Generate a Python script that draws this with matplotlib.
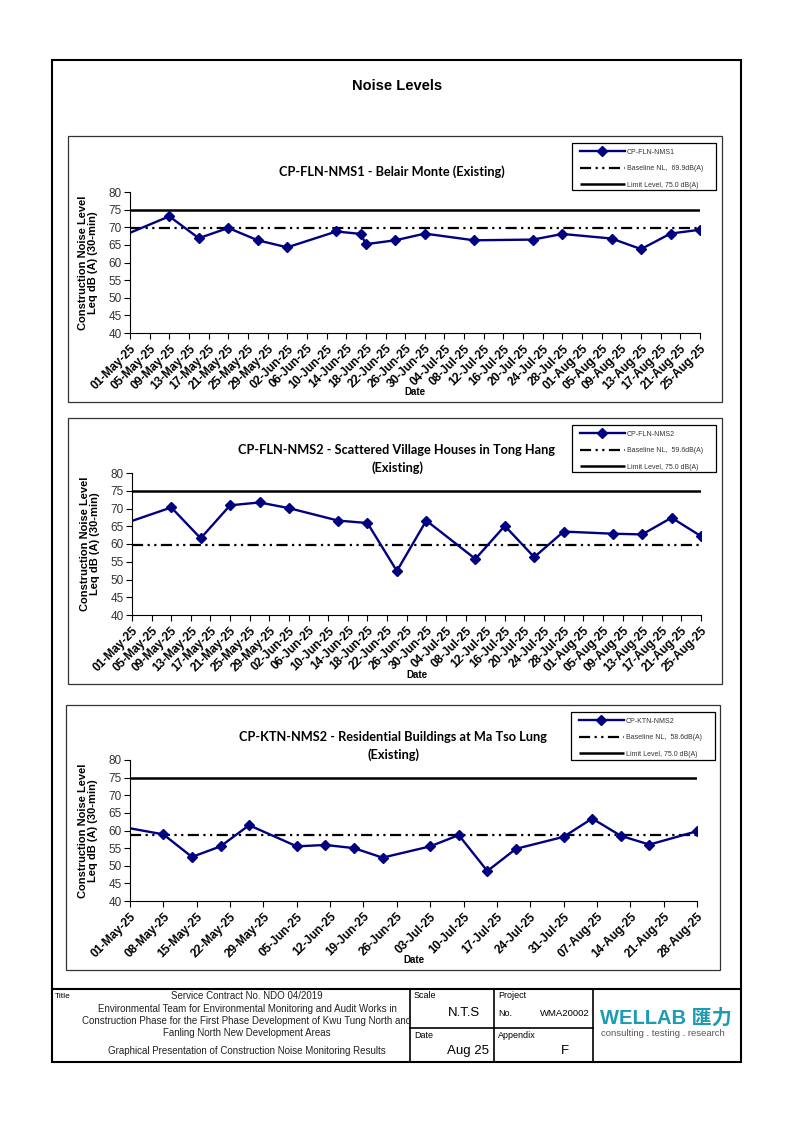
import matplotlib
matplotlib.use('Agg')
import matplotlib.pyplot as plt
from matplotlib.patches import Rectangle
import pandas as pd

W, H = 794, 1123

# ---------------- data ----------------
station1 = 'CP-FLN-NMS1'
title1 = ['CP-FLN-NMS1 - Belair Monte (Existing)']
baseline1 = 69.9
dates1 = ['2025-04-27', '2025-05-09', '2025-05-15', '2025-05-21', '2025-05-27', '2025-06-02',
          '2025-06-12', '2025-06-17', '2025-06-18', '2025-06-24', '2025-06-30', '2025-07-10',
          '2025-07-22', '2025-07-28', '2025-08-07', '2025-08-13', '2025-08-19', '2025-08-25']
values1 = [66.1, 73.1, 66.9, 69.8, 66.3, 64.3, 68.8, 68.1, 65.2, 66.3, 68.2, 66.3,
           66.5, 68.1, 66.8, 63.8, 68.2, 69.3]

station2 = 'CP-FLN-NMS2'
title2 = ['CP-FLN-NMS2 - Scattered Village Houses in Tong Hang', '(Existing)']
baseline2 = 59.6
dates2 = ['2025-04-27', '2025-05-09', '2025-05-15', '2025-05-21', '2025-05-27', '2025-06-02',
          '2025-06-12', '2025-06-18', '2025-06-24', '2025-06-30', '2025-07-10', '2025-07-16',
          '2025-07-22', '2025-07-28', '2025-08-07', '2025-08-13', '2025-08-19', '2025-08-25']
values2 = [64.6, 70.3, 61.6, 70.9, 71.7, 70.1, 66.6, 65.9, 52.4, 66.6, 55.8, 65.1,
           56.3, 63.5, 62.9, 62.7, 67.4, 62.2]

station3 = 'CP-KTN-NMS2'
title3 = ['CP-KTN-NMS2 - Residential Buildings at Ma Tso Lung', '(Existing)']
baseline3 = 58.6
dates3 = ['2025-04-25', '2025-05-08', '2025-05-14', '2025-05-20', '2025-05-26', '2025-06-05',
          '2025-06-11', '2025-06-17', '2025-06-23', '2025-07-03', '2025-07-09', '2025-07-15',
          '2025-07-21', '2025-07-31', '2025-08-06', '2025-08-12', '2025-08-18', '2025-08-28']
values3 = [62.1, 58.9, 52.5, 55.5, 61.5, 55.5, 55.9, 55.0, 52.3, 55.5, 58.7, 48.5,
           54.8, 58.2, 63.4, 58.5, 56.0, 59.8]

limit_level = 75.0
y_ticks = [40, 45, 50, 55, 60, 65, 70, 75, 80]

NAVY = '#000080'
SANS = ['Liberation Sans', 'DejaVu Sans']
NARROW = ['Liberation Sans Narrow', 'Liberation Sans', 'DejaVu Sans']
TITLEF = ['Lato', 'DejaVu Sans']

plt.rcParams['font.family'] = SANS

fig = plt.figure(figsize=(W / 100, H / 100), dpi=100)
bg = fig.add_axes([0, 0, 1, 1], zorder=0)
bg.set_xlim(0, W)
bg.set_ylim(H, 0)
bg.axis('off')


def frac(x0, y0, x1, y1):
    return [x0 / W, 1 - y1 / H, (x1 - x0) / W, (y1 - y0) / H]


def chart(box, rect, dates, vals, station, baseline, start, end, step,
          title_lines, title_x, title_y, leg_box):
    bg.add_patch(Rectangle((box[0], box[1]), box[2] - box[0], box[3] - box[1],
                           fill=False, lw=0.9, edgecolor='#333333'))
    bg.add_patch(Rectangle((leg_box[0], leg_box[1]), leg_box[2] - leg_box[0],
                           leg_box[3] - leg_box[1], fill=False, lw=0.9,
                           edgecolor='black'))
    ax = fig.add_axes(frac(*rect), zorder=2)
    ax.patch.set_alpha(0)
    xs, xe = pd.Timestamp(start), pd.Timestamp(end)
    x = pd.to_datetime(dates)
    l_lim, = ax.plot([xs, xe], [limit_level, limit_level], color='black', lw=1.8,
                     solid_capstyle='butt')
    l_base, = ax.plot([xs, xe], [baseline, baseline], color='black', lw=1.6,
                      dashes=[5, 2, 1, 2, 1, 2])
    l_st, = ax.plot(x, vals, color=NAVY, lw=1.7, marker='D', ms=4.6,
                    markerfacecolor=NAVY, markeredgecolor=NAVY)
    ax.set_xlim(xs, xe)
    ax.set_ylim(40, 80)
    ticks = pd.date_range(xs, xe, freq=f'{step}D')
    ax.set_xticks(ticks)
    ax.set_xticklabels([t.strftime('%d-%b-%y') for t in ticks], rotation=45,
                       ha='right', rotation_mode='anchor', fontweight='bold',
                       fontsize=8.6)
    ax.set_yticks(y_ticks)
    ax.set_yticklabels([str(v) for v in y_ticks], fontsize=8.5, color='#333333')
    ax.tick_params(axis='both', direction='out', length=4, width=0.8, pad=2)
    ax.tick_params(axis='x', pad=3)
    for s in ['top', 'right']:
        ax.spines[s].set_visible(False)
    for s in ['left', 'bottom']:
        ax.spines[s].set_linewidth(0.8)
    ax.set_ylabel('Construction Noise Level\nLeq dB (A) (30-min)', fontsize=8,
                  fontweight='bold', linespacing=1.05)
    ax.yaxis.set_label_coords(-0.056, 0.5)
    ax.set_xlabel('Date', fontsize=7, fontweight='bold')
    ax.xaxis.set_label_coords(0.5, -0.385)
    for i, t in enumerate(title_lines):
        bg.text(title_x, title_y + i * 18, t, ha='center', va='center',
                family=TITLEF, fontweight='bold', fontsize=9.2)
    leg = ax.legend([l_st, l_base, l_lim],
                    [station, f'Baseline NL,  {baseline}dB(A)',
                     f'Limit Level, {limit_level:.1f} dB(A)'],
                    loc='upper left',
                    bbox_to_anchor=((leg_box[0] + 3) / W, 1 - (leg_box[1] + 1) / H),
                    bbox_transform=fig.transFigure, fontsize=5, frameon=False,
                    handlelength=6.5, borderpad=0.7, labelspacing=1.35,
                    borderaxespad=0, handletextpad=0.3)
    for t in leg.get_texts():
        t.set_color('#333333')
    return ax


# page frame
bg.add_patch(Rectangle((52, 60), 689, 1002, fill=False, lw=1.5, edgecolor='black'))
bg.text(397, 86, 'Noise Levels', ha='center', va='center', fontsize=10.5,
        fontweight='bold')

chart((68, 136, 722, 402), (130, 192, 700, 333), dates1, values1, station1, baseline1,
      '2025-05-01', '2025-08-25', 4, title1, 392, 172, (572, 143, 716, 190))
chart((68, 418, 722, 684), (132, 473, 701, 615), dates2, values2, station2, baseline2,
      '2025-05-01', '2025-08-25', 4, title2, 397, 450, (572, 425, 716, 472))
chart((66, 705, 720, 970), (130, 760, 697, 901), dates3, values3, station3, baseline3,
      '2025-05-01', '2025-08-28', 7, title3, 393, 737, (571, 712, 715, 760))

# title block
bg.plot([52, 741], [989, 989], color='black', lw=1.5)
for xv in [410, 494, 593]:
    bg.plot([xv, xv], [989, 1062], color='black', lw=1.2)
bg.plot([410, 593], [1028, 1028], color='black', lw=1.2)

bg.text(55, 996, 'Title', fontsize=6, family=NARROW, va='center')
block_lines = [('Service Contract No. NDO 04/2019', 996),
               ('Environmental Team for Environmental Monitoring and Audit Works in', 1009),
               ('Construction Phase for the First Phase Development of Kwu Tung North and', 1021),
               ('Fanling North New Development Areas', 1033),
               ('Graphical Presentation of Construction Noise Monitoring Results', 1051)]
for txt, yy in block_lines:
    bg.text(247, yy, txt, ha='center', va='center', fontsize=7.0, family=NARROW,
            color='#222222')

bg.text(414, 995, 'Scale', fontsize=6.5, family=NARROW, va='center')
bg.text(464, 1013, 'N.T.S', fontsize=9.5, ha='center', va='center')
bg.text(414, 1035, 'Date', fontsize=6.5, family=NARROW, va='center')
bg.text(468, 1051, 'Aug 25', fontsize=9.5, ha='center', va='center')
bg.text(498, 995, 'Project', fontsize=6.5, family=NARROW, va='center')
bg.text(498, 1013, 'No.', fontsize=6.5, family=NARROW, va='center')
bg.text(590, 1014, 'WMA20002', fontsize=6.8, family=NARROW, ha='right', va='center')
bg.text(498, 1036, 'Appendix', fontsize=6.5, family=NARROW, va='center')
bg.text(565, 1051, 'F', fontsize=9.5, ha='center', va='center')

bg.text(600, 1018, 'WELLAB 匯力', fontsize=14.5, fontweight='bold', color='#1c9bb3',
        family=['Liberation Sans', 'Noto Sans CJK SC'], va='center')
bg.text(601, 1033, 'consulting . testing . research', fontsize=6.8, color='#555555',
        va='center')

fig.savefig('out.png', dpi=100)
